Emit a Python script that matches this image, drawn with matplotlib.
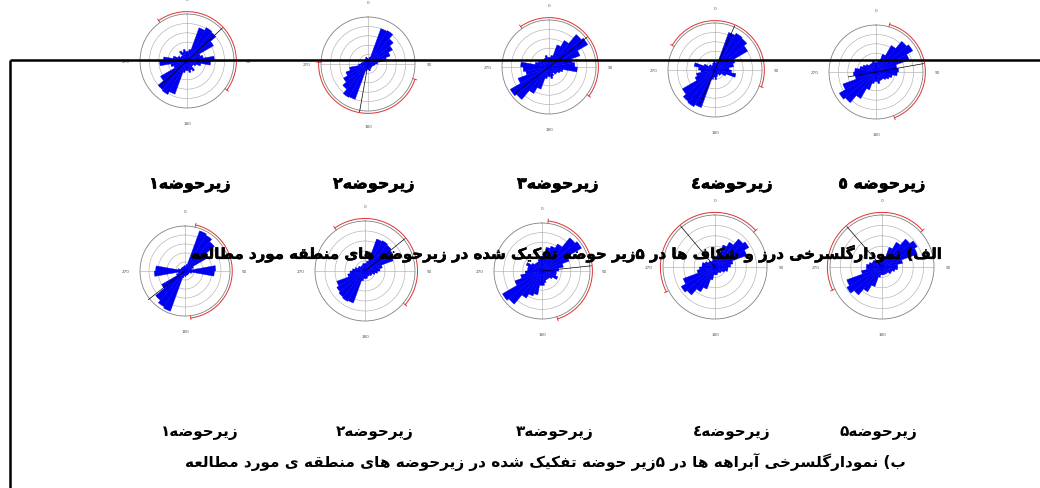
import numpy as np
import matplotlib.pyplot as plt
import matplotlib.patheffects as pe
from matplotlib import font_manager
from matplotlib.ft2font import FT2Font

W, H = 1040, 489

# bin starts (deg), each petal mirrored by +180 (axial data)
BINS = np.arange(0, 180, 10)

# relative petal lengths (fraction of outer circle)
JOINTS_1 = [0.2, 0.25, 0.75, 0.82, 0.8, 0.65, 0.3, 0.35, 0.58, 0.5, 0.3, 0.2, 0.15, 0.15, 0.25, 0.2, 0.25, 0.2]
JOINTS_2 = [0.1, 0.15, 0.8, 0.82, 0.7, 0.6, 0.5, 0.4, 0.2, 0.15, 0.12, 0.1, 0.1, 0.1, 0.1, 0.12, 0.15, 0.12]
JOINTS_3 = [0.2, 0.25, 0.5, 0.65, 0.9, 0.95, 0.7, 0.5, 0.55, 0.6, 0.3, 0.25, 0.2, 0.2, 0.15, 0.2, 0.25, 0.2]
JOINTS_4 = [0.15, 0.2, 0.85, 0.9, 0.88, 0.8, 0.45, 0.4, 0.3, 0.35, 0.45, 0.25, 0.15, 0.15, 0.1, 0.12, 0.15, 0.2]
JOINTS_5 = [0.2, 0.25, 0.4, 0.65, 0.85, 0.9, 0.75, 0.45, 0.48, 0.45, 0.35, 0.3, 0.25, 0.2, 0.2, 0.2, 0.25, 0.2]

STREAMS_1 = [0.1, 0.15, 0.95, 0.92, 0.85, 0.6, 0.2, 0.15, 0.68, 0.65, 0.15, 0.1, 0.1, 0.1, 0.1, 0.1, 0.1, 0.12]
STREAMS_2 = [0.15, 0.2, 0.68, 0.7, 0.68, 0.65, 0.6, 0.35, 0.3, 0.25, 0.2, 0.15, 0.15, 0.12, 0.12, 0.12, 0.15, 0.15]
STREAMS_3 = [0.3, 0.5, 0.55, 0.65, 0.9, 0.95, 0.6, 0.45, 0.35, 0.3, 0.3, 0.35, 0.25, 0.2, 0.2, 0.2, 0.25, 0.3]
STREAMS_4 = [0.15, 0.25, 0.45, 0.55, 0.7, 0.75, 0.65, 0.35, 0.3, 0.25, 0.25, 0.2, 0.15, 0.15, 0.12, 0.12, 0.15, 0.15]
STREAMS_5 = [0.15, 0.2, 0.4, 0.55, 0.7, 0.78, 0.72, 0.4, 0.3, 0.3, 0.25, 0.2, 0.2, 0.15, 0.15, 0.15, 0.15, 0.15]

# confidence arcs (start -> end, clockwise, deg) and mean direction
JOINT_ARC_START = [325, 108, 325, 300, 16]
JOINT_ARC_END = [486, 272, 486, 470, 158]
JOINT_MEAN = [47, 190, 52, 24, 80]
JOINT_MEAN_BACK = [0.8, 0.0, 0.9, 0.8, 0.6]

STREAM_ARC_START = [13, 325, 7, 243, 245]
STREAM_ARC_END = [173, 490, 162, 408, 408]
STREAM_MEAN = [232, 51, 84, 320, 319]
STREAM_MEAN_BACK = [0.0, 0.0, 0.0, 0.0, 0.0]

TOP_LABELS = ["زیرحوضه۱", "زیرحوضه۲", "زیرحوضه۳", "زیرحوضه٤", "زیرحوضه ٥"]
BOTTOM_LABELS = ["زیرحوضه۱", "زیرحوضه۲", "زیرحوضه۳", "زیرحوضه٤", "زیرحوضه۵"]
CAPTION_A = "الف) نمودارگلسرخی درز و شکاف ها در ۵زیر حوضه تفکیک شده در زیرحوضه های منطقه مورد مطالعه"
CAPTION_B = "ب) نمودارگلسرخی آبراهه ها در ۵زیر حوضه تفکیک شده در زیرحوضه های منطقه ی مورد مطالعه"

# layout (pixels)
TOP_CENTERS = [(187, 62), (368, 65), (549, 68), (715, 71), (876, 73)]
TOP_RADII = [47, 47, 47, 47, 47]
BOT_CENTERS = [(185, 272), (365, 272), (542, 272), (715, 268), (882, 268)]
BOT_RADII = [45, 50, 48, 52, 52]
TOP_LABEL_X = [190, 374, 558, 732, 882]
BOT_LABEL_X = [200, 375, 555, 732, 878]


# --- minimal Persian shaping (matplotlib has no bidi / joining) ---
FORMS = {
    'ا': ('\uFE8D', '\uFE8E', None, None),
    'آ': ('\uFE81', '\uFE82', None, None),
    'ب': ('\uFE8F', '\uFE90', '\uFE91', '\uFE92'),
    'پ': ('\uFB56', '\uFB57', '\uFB58', '\uFB59'),
    'ت': ('\uFE95', '\uFE96', '\uFE97', '\uFE98'),
    'ج': ('\uFE9D', '\uFE9E', '\uFE9F', '\uFEA0'),
    'ح': ('\uFEA1', '\uFEA2', '\uFEA3', '\uFEA4'),
    'خ': ('\uFEA5', '\uFEA6', '\uFEA7', '\uFEA8'),
    'د': ('\uFEA9', '\uFEAA', None, None),
    'ذ': ('\uFEAB', '\uFEAC', None, None),
    'ر': ('\uFEAD', '\uFEAE', None, None),
    'ز': ('\uFEAF', '\uFEB0', None, None),
    'س': ('\uFEB1', '\uFEB2', '\uFEB3', '\uFEB4'),
    'ش': ('\uFEB5', '\uFEB6', '\uFEB7', '\uFEB8'),
    'ض': ('\uFEBD', '\uFEBE', '\uFEBF', '\uFEC0'),
    'ط': ('\uFEC1', '\uFEC2', '\uFEC3', '\uFEC4'),
    'ع': ('\uFEC9', '\uFECA', '\uFECB', '\uFECC'),
    'ف': ('\uFED1', '\uFED2', '\uFED3', '\uFED4'),
    'ق': ('\uFED5', '\uFED6', '\uFED7', '\uFED8'),
    'ک': ('\uFB8E', '\uFB8F', '\uFB90', '\uFB91'),
    'گ': ('\uFB92', '\uFB93', '\uFB94', '\uFB95'),
    'ل': ('\uFEDD', '\uFEDE', '\uFEDF', '\uFEE0'),
    'م': ('\uFEE1', '\uFEE2', '\uFEE3', '\uFEE4'),
    'ن': ('\uFEE5', '\uFEE6', '\uFEE7', '\uFEE8'),
    'ه': ('\uFEE9', '\uFEEA', '\uFEEB', '\uFEEC'),
    'و': ('\uFEED', '\uFEEE', None, None),
    'ی': ('\uFBFC', '\uFBFD', '\uFBFE', '\uFBFF'),
}


def shape_fa(text):
    def dual(c):
        return c in FORMS and FORMS[c][2] is not None
    out = []
    for i, c in enumerate(text):
        if c not in FORMS:
            out.append(c)
            continue
        prev = text[i - 1] if i > 0 else ''
        nxt = text[i + 1] if i + 1 < len(text) else ''
        jp = dual(prev)
        jn = dual(c) and nxt in FORMS
        iso, fin, ini, med = FORMS[c]
        out.append(med if (jp and jn) else fin if jp else ini if jn else iso)
    vis = ''.join(reversed(out))
    return vis.translate(str.maketrans('()', ')('))


def covers(style, weight, s):
    prop = font_manager.FontProperties(family='DejaVu Sans', style=style, weight=weight)
    cmap = FT2Font(font_manager.findfont(prop)).get_charmap()
    return all(ord(c) in cmap for c in s if not c.isspace())


all_shaped = ''.join(shape_fa(t) for t in TOP_LABELS + BOTTOM_LABELS + [CAPTION_A, CAPTION_B])
TOP_STYLE = 'italic' if covers('italic', 'bold', all_shaped) else 'normal'
BOLD = 'bold' if covers('normal', 'bold', all_shaped) else 'normal'
HEAVY = [pe.withStroke(linewidth=0.4, foreground='black')]


def draw_rose(fig, cx, cy, r, petals, a0, a1, mean, back):
    ax = fig.add_axes([(cx - r) / W, 1 - (cy + r) / H, 2 * r / W, 2 * r / H],
                      projection='polar')
    ax.set_theta_zero_location('N')
    ax.set_theta_direction(-1)
    vals = np.array(petals)
    theta = np.deg2rad(np.concatenate([BINS, BINS + 180]) + 5)
    ax.bar(theta, np.concatenate([vals, vals]), width=np.deg2rad(10),
           color='#0000f0', edgecolor='#0000f0', linewidth=0.3, zorder=2)
    arc = np.deg2rad(np.linspace(a0, a1, 100))
    ax.plot(arc, np.full_like(arc, 1.05), color='#e03030', lw=0.7, clip_on=False, zorder=3)
    for a in (a0, a1):
        ax.plot(np.deg2rad([a, a]), [1.0, 1.09], color='#e03030', lw=0.6, clip_on=False)
    m = np.deg2rad(mean)
    ax.plot([m, m], [0, 1.03], color='black', lw=0.5, clip_on=False, zorder=4)
    if back > 0:
        ax.plot([m + np.pi] * 2, [0, back], color='black', lw=0.5, zorder=4)
    ax.set_ylim(0, 1)
    ax.set_yticks([0.2, 0.4, 0.6, 0.8])
    ax.set_yticklabels([])
    ax.set_thetagrids([0, 90, 180, 270], ['0', '90', '180', '270'],
                      fontsize=3, color='#555555')
    ax.tick_params(axis='x', pad=0)
    ax.grid(color='#b0b0b0', lw=0.45)
    ax.spines['polar'].set_color('#808080')
    ax.spines['polar'].set_linewidth(0.6)
    ax.set_facecolor('none')


fig = plt.figure(figsize=(W / 100, H / 100), dpi=100)

joints = [JOINTS_1, JOINTS_2, JOINTS_3, JOINTS_4, JOINTS_5]
streams = [STREAMS_1, STREAMS_2, STREAMS_3, STREAMS_4, STREAMS_5]

for i in range(5):
    cx, cy = TOP_CENTERS[i]
    draw_rose(fig, cx, cy, TOP_RADII[i], joints[i], JOINT_ARC_START[i],
              JOINT_ARC_END[i], JOINT_MEAN[i], JOINT_MEAN_BACK[i])
    cx, cy = BOT_CENTERS[i]
    draw_rose(fig, cx, cy, BOT_RADII[i], streams[i], STREAM_ARC_START[i],
              STREAM_ARC_END[i], STREAM_MEAN[i], STREAM_MEAN_BACK[i])

# overlay axes in pixel coords for frame and captions
bg = fig.add_axes([0, 0, 1, 1])
bg.set_xlim(0, W)
bg.set_ylim(H, 0)
bg.axis('off')
bg.patch.set_alpha(0)

bg.plot([10, W], [61, 61], color='black', lw=1.8, solid_capstyle='butt')
bg.plot([10, 10], [61, H], color='black', lw=1.8, solid_capstyle='butt')

for x, lab in zip(TOP_LABEL_X, TOP_LABELS):
    bg.text(x, 186, shape_fa(lab), ha='center', va='center', fontsize=11.5,
            fontweight=BOLD, fontstyle=TOP_STYLE, family='DejaVu Sans',
            path_effects=HEAVY)
bg.text(567, 255, shape_fa(CAPTION_A), ha='center', va='center', fontsize=10.8,
        fontweight=BOLD, fontstyle=TOP_STYLE, family='DejaVu Sans',
        path_effects=HEAVY)

for x, lab in zip(BOT_LABEL_X, BOTTOM_LABELS):
    bg.text(x, 432, shape_fa(lab), ha='center', va='center', fontsize=11,
            fontweight=BOLD, family='DejaVu Sans')
bg.text(545, 462, shape_fa(CAPTION_B), ha='center', va='center', fontsize=11,
        fontweight=BOLD, family='DejaVu Sans')

fig.savefig('out.png', dpi=100)
